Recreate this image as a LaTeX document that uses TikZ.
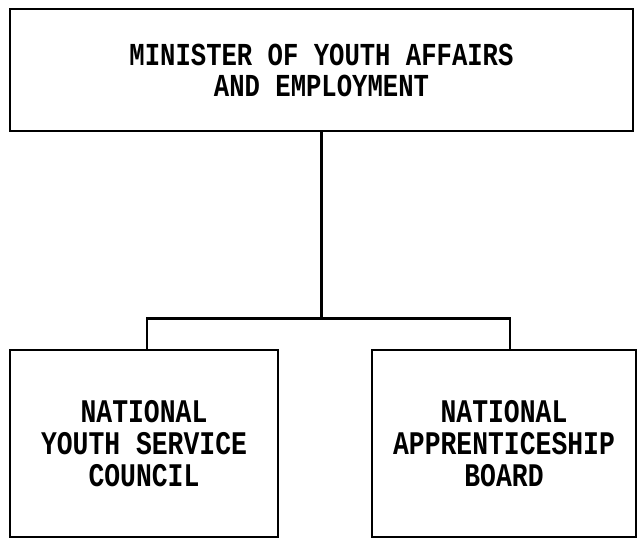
\documentclass[tikz,border=0pt]{standalone}
\usepackage{fontspec}
\setmonofont{Liberation Mono}[FakeStretch=0.8]
\usetikzlibrary{positioning}

\begin{document}
\begin{tikzpicture}[x=1pt, y=-1pt,
    orgbox/.style={draw, line width=2.8pt, inner sep=0pt, align=center,
        font=\ttfamily\bfseries\fontsize{33}{32}\selectfont},
    link/.style={line width=2.6pt}]
    \useasboundingbox (0,0) rectangle (638,539);
    % Minister at the top
    \node[orgbox, minimum width=623pt, minimum height=122pt,
        font=\ttfamily\bfseries\fontsize{32}{31}\selectfont]
        (minister) at (321.5,70) {MINISTER OF YOUTH AFFAIRS\\AND EMPLOYMENT};
    % The two bodies below
    \node[orgbox, minimum width=268pt, minimum height=187pt]
        (nysc) at (144,443.5) {NATIONAL\\YOUTH SERVICE\\COUNCIL};
    \node[orgbox, minimum width=264pt, minimum height=187pt]
        (nab) at (504,443.5) {NATIONAL\\APPRENTICESHIP\\BOARD};
    % Connectors
    \coordinate (fork) at (minister.south |- 0,320);
    \draw[link, line width=3.6pt] (minister.south) -- (fork);
    \draw[link] ([xshift=3pt]nysc.north) -- ++(0,-30) -| ([xshift=6pt]nab.north);
\end{tikzpicture}
\end{document}
